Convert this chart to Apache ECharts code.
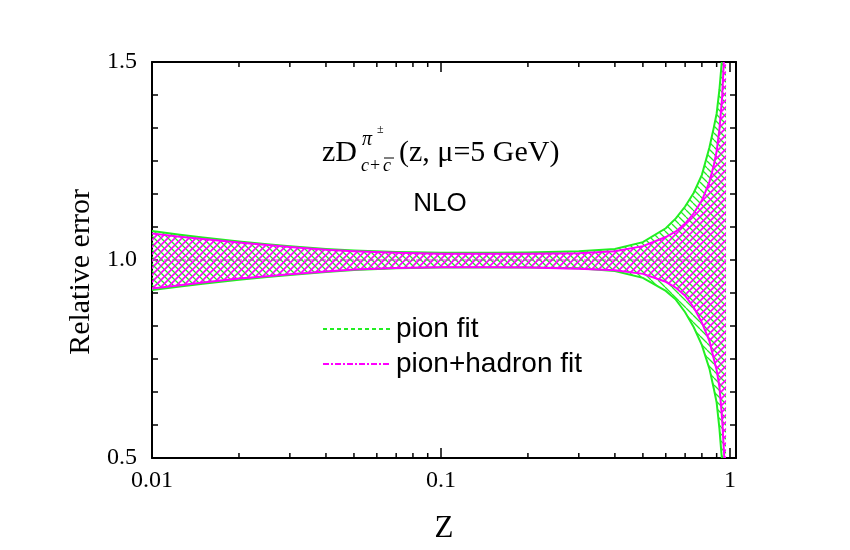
<!DOCTYPE html>
<html>
<head>
<meta charset="utf-8">
<script src="https://cdn.jsdelivr.net/npm/echarts@6/dist/echarts.min.js"></script>
<style>
  html, body { margin: 0; padding: 0; background: #fff; }
  #main { width: 850px; height: 550px; }
</style>
</head>
<body>
<div id="main"></div>
<script>
// z values along the band (log axis)
var zs = [0.01, 0.0125, 0.015, 0.02, 0.025, 0.03, 0.04, 0.05, 0.07, 0.1, 0.15, 0.2, 0.3, 0.4,
  0.5, 0.6, 0.65, 0.7, 0.75, 0.8, 0.85, 0.88, 0.9, 0.92, 0.94, 0.96, 0.97]

// pion fit band (green)
var pionUpper = [1.073, 1.064, 1.057, 1.047, 1.040, 1.035, 1.028, 1.024, 1.020, 1.018, 1.018, 1.019, 1.022, 1.028,
  1.045, 1.080, 1.105, 1.135, 1.170, 1.215, 1.285, 1.335, 1.37, 1.43, 1.51, 1.62, 1.75]
var pionLower = [0.924, 0.933, 0.940, 0.950, 0.957, 0.962, 0.970, 0.975, 0.979, 0.981, 0.981, 0.981, 0.979, 0.972,
  0.955, 0.922, 0.900, 0.868, 0.830, 0.785, 0.725, 0.675, 0.640, 0.575, 0.49, 0.38, 0.25]

// pion+hadron fit band (magenta)
var hadUpper = [1.067, 1.059, 1.053, 1.044, 1.038, 1.033, 1.026, 1.022, 1.018, 1.016, 1.016, 1.016, 1.017, 1.022,
  1.035, 1.058, 1.072, 1.092, 1.118, 1.150, 1.198, 1.24, 1.275, 1.33, 1.41, 1.55, 1.70]
var hadLower = [0.928, 0.936, 0.943, 0.953, 0.959, 0.964, 0.971, 0.976, 0.980, 0.982, 0.982, 0.981, 0.978, 0.974,
  0.965, 0.945, 0.930, 0.910, 0.880, 0.842, 0.795, 0.75, 0.722, 0.68, 0.60, 0.48, 0.30]

// central value (ratio to itself)
var central = zs.map(function () { return 1.0 })

// minor ticks on the log axis
var minorZ = [0.02, 0.03, 0.04, 0.05, 0.06, 0.07, 0.08, 0.09, 0.2, 0.3, 0.4, 0.5, 0.6, 0.7, 0.8, 0.9]

var GREEN = '#22ee22'
var MAGENTA = '#ff00ff'
var SERIF = '"Liberation Serif", "Times New Roman", serif'
var SANS = '"Liberation Sans", Arial, sans-serif'

// diagonal hatch pattern
function hatch(color, dir, width) {
  var p = 7
  var c = document.createElement('canvas')
  c.width = p
  c.height = p
  var ctx = c.getContext('2d')
  ctx.strokeStyle = color
  ctx.lineWidth = width
  ctx.beginPath()
  for (var k = -1; k <= 1; k++) {
    if (dir > 0) {
      ctx.moveTo(k * p, p)
      ctx.lineTo(k * p + p, 0)
    } else {
      ctx.moveTo(k * p, 0)
      ctx.lineTo(k * p + p, p)
    }
  }
  ctx.stroke()
  return c
}

function pairs(ys) {
  return zs.map(function (z, i) { return [z, ys[i]] })
}

// hatched band with solid edges, drawn through the axis scales
function band(upper, lower, color, dir, width) {
  var pattern = { image: hatch(color, dir, width), repeat: 'repeat' }
  return function (params, api) {
    var up = zs.map(function (z, i) { return api.coord([z, upper[i]]) })
    var lo = zs.map(function (z, i) { return api.coord([z, lower[i]]) })
    var edge = { stroke: color, lineWidth: 2, fill: null }
    return {
      type: 'group',
      children: [
        { type: 'polygon', shape: { points: up.concat(lo.slice().reverse()) }, style: { fill: pattern, stroke: null } },
        { type: 'polyline', shape: { points: up }, style: edge },
        { type: 'polyline', shape: { points: lo }, style: edge }
      ]
    }
  }
}

var myChart = echarts.init(document.getElementById('main'))

var axisLine = { show: true, lineStyle: { color: '#000', width: 2 } }

myChart.setOption({
  animation: false,
  grid: { left: 152, right: 114, top: 62, bottom: 92 },
  legend: {
    data: ['pion fit', 'pion+hadron fit'],
    orient: 'vertical',
    left: 317,
    top: 310,
    itemWidth: 68,
    itemHeight: 2,
    itemGap: 7,
    itemStyle: { opacity: 0 },
    textStyle: { fontFamily: SANS, fontSize: 28, color: '#000', lineHeight: 28 }
  },
  xAxis: [
    {
      type: 'log',
      logBase: 10,
      min: 0.01,
      max: 1.05,
      position: 'bottom',
      axisLine: axisLine,
      axisTick: { inside: true, length: 10, lineStyle: { color: '#000', width: 1.5 } },
      axisLabel: {
        showMaxLabel: false,
        margin: 11,
        fontFamily: SERIF,
        fontSize: 24,
        color: '#000',
        formatter: function (v) { return String(+v.toPrecision(3)) }
      },
      splitLine: { show: false },
      name: 'Z',
      nameLocation: 'middle',
      nameGap: 55,
      nameTextStyle: { fontFamily: SERIF, fontSize: 31, color: '#000' }
    },
    {
      type: 'log',
      logBase: 10,
      min: 0.01,
      max: 1.05,
      position: 'top',
      axisLine: axisLine,
      axisTick: { inside: true, length: 10, lineStyle: { color: '#000', width: 1.5 } },
      axisLabel: { show: false },
      splitLine: { show: false }
    }
  ],
  yAxis: [
    {
      type: 'value',
      min: 0.5,
      max: 1.5,
      interval: 0.5,
      position: 'left',
      axisLine: axisLine,
      axisTick: { inside: true, length: 6, lineStyle: { color: '#000', width: 1.5 } },
      minorTick: { show: true, splitNumber: 6, length: 6, lineStyle: { color: '#000', width: 1.5 } },
      axisLabel: {
        margin: 15,
        fontFamily: SERIF,
        fontSize: 24,
        color: '#000',
        formatter: function (v) { return v.toFixed(1) }
      },
      splitLine: { show: false },
      name: 'Relative error',
      nameLocation: 'middle',
      nameGap: 42,
      nameTextStyle: { fontFamily: SERIF, fontSize: 30, color: '#000', padding: [0, 24, 0, 0] }
    },
    {
      type: 'value',
      min: 0.5,
      max: 1.5,
      interval: 0.5,
      position: 'right',
      axisLine: axisLine,
      axisTick: { inside: true, length: 6, lineStyle: { color: '#000', width: 1.5 } },
      minorTick: { show: true, splitNumber: 6, length: 6, lineStyle: { color: '#000', width: 1.5 } },
      axisLabel: { show: false },
      splitLine: { show: false }
    }
  ],
  graphic: [
    { type: 'text', x: 322, y: 153, style: { text: 'zD', font: '30px ' + SERIF, fill: '#000', verticalAlign: 'middle' } },
    { type: 'text', x: 362, y: 140, style: { text: 'π', font: 'italic 20px ' + SERIF, fill: '#000', verticalAlign: 'middle' } },
    { type: 'text', x: 377, y: 130, style: { text: '±', font: '12px ' + SERIF, fill: '#000', verticalAlign: 'middle' } },
    { type: 'text', x: 361, y: 166, style: { text: 'c', font: 'italic 18px ' + SERIF, fill: '#000', verticalAlign: 'middle' } },
    { type: 'text', x: 370, y: 166, style: { text: '+', font: '18px ' + SERIF, fill: '#000', verticalAlign: 'middle' } },
    { type: 'text', x: 383, y: 166, style: { text: 'c', font: 'italic 18px ' + SERIF, fill: '#000', verticalAlign: 'middle' } },
    { type: 'line', shape: { x1: 384, y1: 158, x2: 394, y2: 158 }, style: { stroke: '#000', lineWidth: 1 } },
    { type: 'text', x: 399, y: 153, style: { text: '(z, μ=5 GeV)', font: '30px ' + SERIF, fill: '#000', verticalAlign: 'middle' } },
    { type: 'text', x: 440, y: 204, style: { text: 'NLO', font: '26px ' + SANS, fill: '#000', align: 'center', verticalAlign: 'middle' } }
  ],
  series: [
    {
      name: 'pion band',
      type: 'custom',
      clip: true,
      data: [[zs[0], 1]],
      silent: true,
      renderItem: band(pionUpper, pionLower, GREEN, -1, 1.3)
    },
    {
      name: 'pion+hadron band',
      type: 'custom',
      clip: true,
      data: [[zs[0], 1]],
      silent: true,
      renderItem: band(hadUpper, hadLower, MAGENTA, 1, 1.6)
    },
    {
      name: 'pion fit',
      type: 'line',
      data: pairs(central),
      showSymbol: false,
      symbol: 'none',
      itemStyle: { color: GREEN },
      lineStyle: { color: GREEN, width: 1, type: [4, 3] }
    },
    {
      name: 'pion+hadron fit',
      type: 'line',
      data: pairs(central),
      showSymbol: false,
      symbol: 'none',
      itemStyle: { color: MAGENTA },
      lineStyle: { color: MAGENTA, width: 1, type: [6, 2, 2, 2] }
    },
    {
      // minor ticks of the log axes, bottom and top
      name: 'minor ticks',
      type: 'custom',
      data: minorZ.map(function (z) { return [z] }),
      encode: { x: 0 },
      silent: true,
      renderItem: function (params, api) {
        var z = api.value(0)
        var b = api.coord([z, 0.5])
        var t = api.coord([z, 1.5])
        var st = { stroke: '#000', lineWidth: 1.5 }
        return {
          type: 'group',
          children: [
            { type: 'line', shape: { x1: b[0], y1: b[1], x2: b[0], y2: b[1] - 5 }, style: st },
            { type: 'line', shape: { x1: t[0], y1: t[1], x2: t[0], y2: t[1] + 5 }, style: st }
          ]
        }
      }
    }
  ]
})
</script>
</body>
</html>
